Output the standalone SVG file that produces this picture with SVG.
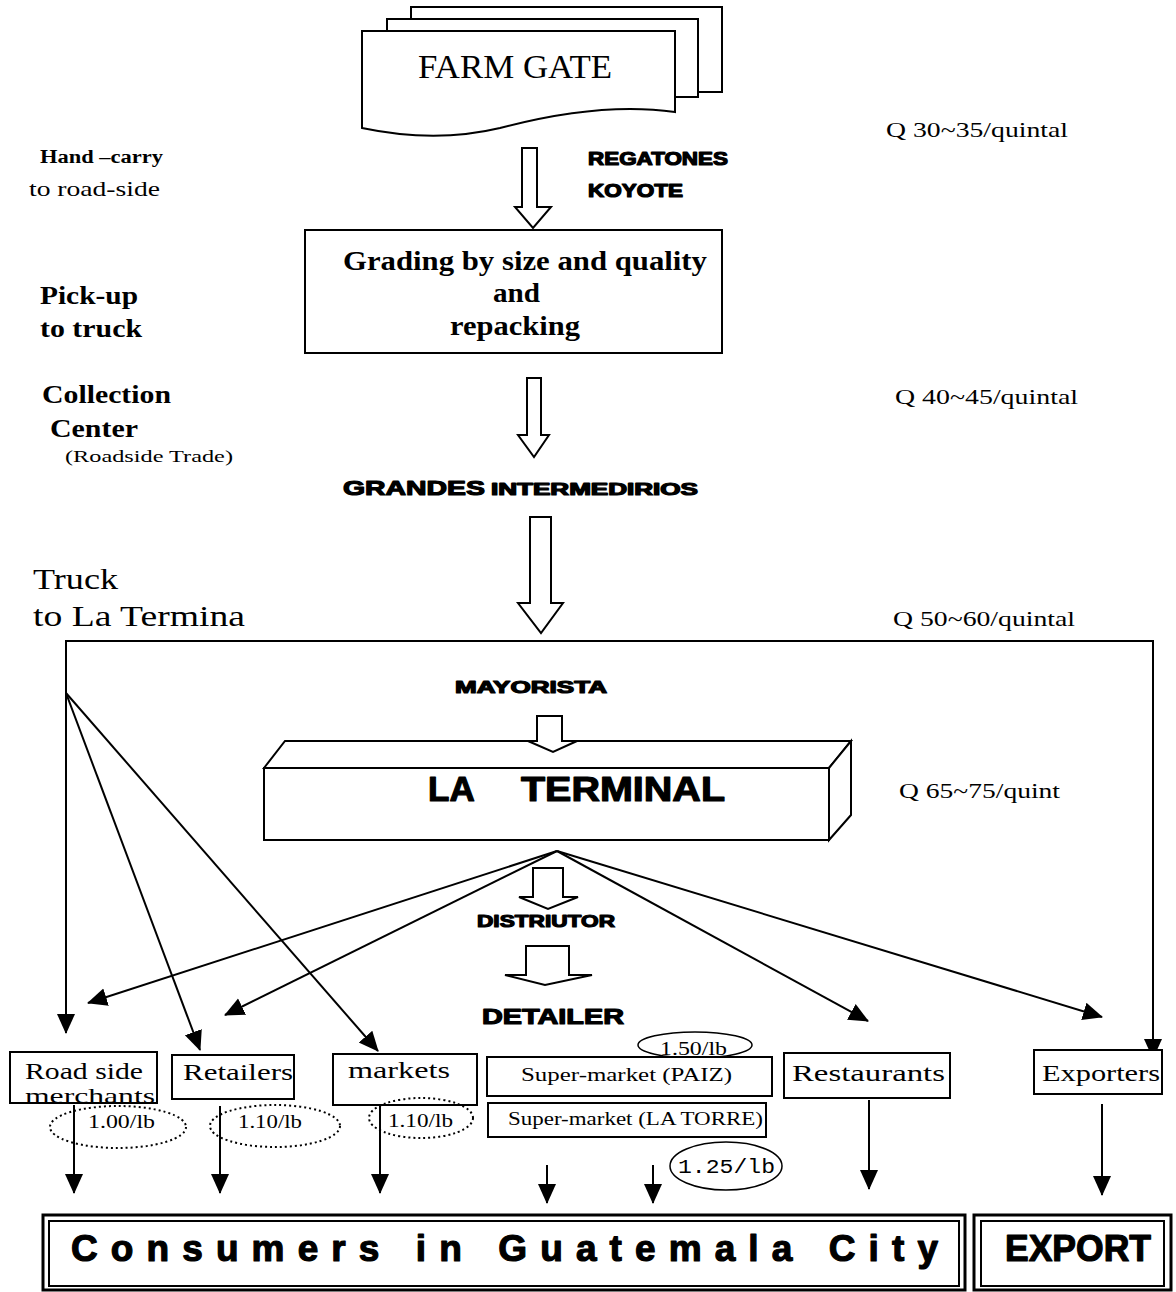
<svg xmlns="http://www.w3.org/2000/svg" width="1176" height="1292" viewBox="0 0 1176 1292">
<defs>
<marker id="ah" viewBox="0 0 20 20" refX="19" refY="10" markerWidth="20" markerHeight="20" markerUnits="userSpaceOnUse" orient="auto-start-reverse"><path d="M0,1 L20,10 L0,19 Z" fill="#000"/></marker>
</defs>
<style>
.s{font-family:"Liberation Serif","Times New Roman",serif;fill:#000}
.b{font-weight:bold}
.h{font-family:"Liberation Sans",Arial,sans-serif;font-weight:bold;fill:#000;stroke:#000;stroke-width:1.2;stroke-linejoin:round}
.box{fill:#fff;stroke:#000;stroke-width:2}
.ha{fill:#fff;stroke:#000;stroke-width:2;stroke-linejoin:miter}
.ln{stroke:#000;stroke-width:2;fill:none}
.dot{fill:none;stroke:#000;stroke-width:2;stroke-dasharray:2 3}
.el{fill:none;stroke:#000;stroke-width:1.5}
.mono{font-family:"Liberation Mono","Courier New",monospace;fill:#000}
</style>
<rect width="1176" height="1292" fill="#fff"/>

<g id="farm-gate">
<rect x="411" y="7" width="311" height="85" class="box"/>
<rect x="387" y="19" width="311" height="78" class="box"/>
<path d="M362,31 H675 V112 C620,104 560,112 500,128 C450,140 400,136 362,128 Z" class="box"/>
<text x="418" y="78" class="s" font-size="34" textLength="194" lengthAdjust="spacingAndGlyphs">FARM GATE</text>
</g>

<g id="labels-left">
<text x="40" y="163" class="s b" font-size="18" textLength="123" lengthAdjust="spacingAndGlyphs">Hand –carry</text>
<text x="29" y="196" class="s" font-size="21" textLength="131" lengthAdjust="spacingAndGlyphs">to road-side</text>
<text x="40" y="304" class="s b" font-size="26" textLength="98" lengthAdjust="spacingAndGlyphs">Pick-up</text>
<text x="40" y="337" class="s b" font-size="26" textLength="102" lengthAdjust="spacingAndGlyphs">to truck</text>
<text x="42" y="403" class="s b" font-size="26" textLength="129" lengthAdjust="spacingAndGlyphs">Collection</text>
<text x="50" y="437" class="s b" font-size="26" textLength="88" lengthAdjust="spacingAndGlyphs">Center</text>
<text x="65" y="462" class="s" font-size="17" textLength="168" lengthAdjust="spacingAndGlyphs">(Roadside Trade)</text>
<text x="33" y="589" class="s" font-size="30" textLength="85" lengthAdjust="spacingAndGlyphs">Truck</text>
<text x="33" y="626" class="s" font-size="30" textLength="212" lengthAdjust="spacingAndGlyphs">to La Termina</text>
</g>

<g id="labels-price">
<text x="886" y="137" class="s" font-size="21" textLength="182" lengthAdjust="spacingAndGlyphs">Q 30~35/quintal</text>
<text x="895" y="404" class="s" font-size="21" textLength="183" lengthAdjust="spacingAndGlyphs">Q 40~45/quintal</text>
<text x="893" y="626" class="s" font-size="21" textLength="182" lengthAdjust="spacingAndGlyphs">Q 50~60/quintal</text>
<text x="899" y="798" class="s" font-size="21" textLength="161" lengthAdjust="spacingAndGlyphs">Q 65~75/quint</text>
</g>

<g id="labels-agents">
<text x="588" y="165" class="h" font-size="18" textLength="140" lengthAdjust="spacingAndGlyphs">REGATONES</text>
<text x="588" y="197" class="h" font-size="18" textLength="95" lengthAdjust="spacingAndGlyphs">KOYOTE</text>
<text x="343" y="495" class="h" font-size="21" stroke-width="1.5" textLength="142" lengthAdjust="spacingAndGlyphs">GRANDES</text>
<text x="491" y="495" class="h" font-size="16" textLength="207" lengthAdjust="spacingAndGlyphs">INTERMEDIRIOS</text>
<text x="455" y="693" class="h" font-size="17" textLength="152" lengthAdjust="spacingAndGlyphs">MAYORISTA</text>
<text x="477" y="927" class="h" font-size="17" textLength="138" lengthAdjust="spacingAndGlyphs">DISTRIUTOR</text>
<text x="482" y="1024" class="h" font-size="22" stroke-width="1.4" textLength="142" lengthAdjust="spacingAndGlyphs">DETAILER</text>
</g>

<g id="grading">
<rect x="305" y="230" width="417" height="123" class="box"/>
<text x="343" y="270" class="s b" font-size="27" textLength="364" lengthAdjust="spacingAndGlyphs">Grading by size and quality</text>
<text x="493" y="302" class="s b" font-size="27" textLength="47" lengthAdjust="spacingAndGlyphs">and</text>
<text x="450" y="335" class="s b" font-size="27" textLength="130" lengthAdjust="spacingAndGlyphs">repacking</text>
</g>

<g id="la-terminal">
<path d="M264,768 L285,741 H851 L829,768 Z" class="box"/>
<path d="M829,768 L851,741 V815 L829,840 Z" class="box"/>
<rect x="264" y="768" width="565" height="72" class="box"/>
<text y="801" class="h" font-size="35" stroke-width="1.8"><tspan x="428">LA</tspan> <tspan x="521" textLength="204" lengthAdjust="spacingAndGlyphs">TERMINAL</tspan></text>
</g>

<g id="hollow-arrows">
<path d="M522,148 H537 V207 H551 L533,228 L515,207 H522 Z" class="ha"/>
<path d="M527,378 H541 V435 H549 L534,457 L518,435 H527 Z" class="ha"/>
<path d="M530,517 H551 V603 H563 L541,633 L518,603 H530 Z" class="ha"/>
<path d="M537,716 H562 V741 H577 L553,752 L528,741 H537 Z" class="ha"/>
<path d="M533,868 H563 V897 H578 L548,909 L519,897 H533 Z" class="ha"/>
<path d="M526,946 H569 V975 H592 L545,985 L505,975 H526 Z" class="ha"/>
</g>

<g id="connectors">
<path d="M66,1033 V641 H1153 V1058" class="ln" marker-start="url(#ah)" marker-end="url(#ah)"/>
<line x1="66" y1="693" x2="200" y2="1050" class="ln" marker-end="url(#ah)"/>
<line x1="66" y1="693" x2="378" y2="1051" class="ln" marker-end="url(#ah)"/>
<line x1="557" y1="851" x2="88" y2="1003" class="ln" marker-end="url(#ah)"/>
<line x1="557" y1="851" x2="225" y2="1015" class="ln" marker-end="url(#ah)"/>
<line x1="557" y1="851" x2="868" y2="1021" class="ln" marker-end="url(#ah)"/>
<line x1="557" y1="851" x2="1102" y2="1017" class="ln" marker-end="url(#ah)"/>
<line x1="74" y1="1105" x2="74" y2="1193" class="ln" marker-end="url(#ah)"/>
<line x1="220" y1="1106" x2="220" y2="1193" class="ln" marker-end="url(#ah)"/>
<line x1="380" y1="1105" x2="380" y2="1193" class="ln" marker-end="url(#ah)"/>
<line x1="547" y1="1165" x2="547" y2="1203" class="ln" marker-end="url(#ah)"/>
<line x1="653" y1="1165" x2="653" y2="1203" class="ln" marker-end="url(#ah)"/>
<line x1="869" y1="1100" x2="869" y2="1189" class="ln" marker-end="url(#ah)"/>
<line x1="1102" y1="1104" x2="1102" y2="1195" class="ln" marker-end="url(#ah)"/>
</g>

<g id="road-side">
<rect x="10" y="1052" width="147" height="51" class="box"/>
<text x="25" y="1079" class="s" font-size="23" textLength="118" lengthAdjust="spacingAndGlyphs">Road side</text>
<text x="25" y="1103" class="s" font-size="21" textLength="130" lengthAdjust="spacingAndGlyphs">merchants</text>
<ellipse cx="118" cy="1127" rx="68" ry="21" class="dot"/>
<text x="88" y="1128" class="s" font-size="19" textLength="67" lengthAdjust="spacingAndGlyphs">1.00/lb</text>
</g>

<g id="retailers">
<rect x="172" y="1055" width="122" height="44" class="box"/>
<text x="183" y="1080" class="s" font-size="24" textLength="110" lengthAdjust="spacingAndGlyphs">Retailers</text>
<ellipse cx="275" cy="1126" rx="65" ry="21" class="dot"/>
<text x="238" y="1128" class="s" font-size="19" textLength="64" lengthAdjust="spacingAndGlyphs">1.10/lb</text>
</g>

<g id="markets">
<rect x="333" y="1054" width="144" height="51" class="box"/>
<text x="348" y="1078" class="s" font-size="24" textLength="102" lengthAdjust="spacingAndGlyphs">markets</text>
<ellipse cx="421" cy="1118" rx="52" ry="20" class="dot"/>
<text x="388" y="1127" class="s" font-size="19" textLength="65" lengthAdjust="spacingAndGlyphs">1.10/lb</text>
</g>

<g id="super-paiz">
<ellipse cx="695" cy="1045" rx="57" ry="13" class="el"/>
<rect x="487" y="1057" width="285" height="39" class="box"/>
<text x="660" y="1055" class="s" font-size="19" textLength="67" lengthAdjust="spacingAndGlyphs">1.50/lb</text>
<text x="521" y="1081" class="s" font-size="18" textLength="211" lengthAdjust="spacingAndGlyphs">Super-market (PAIZ)</text>
</g>

<g id="super-la-torre">
<rect x="488" y="1103" width="278" height="34" class="box"/>
<text x="508" y="1125" class="s" font-size="18" textLength="255" lengthAdjust="spacingAndGlyphs">Super-market (LA TORRE)</text>
<ellipse cx="726" cy="1166" rx="56" ry="24" class="el"/>
<text x="678" y="1173" class="mono" font-size="20" textLength="97" lengthAdjust="spacingAndGlyphs">1.25/lb</text>
</g>

<g id="restaurants">
<rect x="784" y="1053" width="166" height="45" class="box"/>
<text x="792" y="1081" class="s" font-size="24" textLength="153" lengthAdjust="spacingAndGlyphs">Restaurants</text>
</g>

<g id="exporters">
<rect x="1034" y="1050" width="128" height="44" class="box"/>
<text x="1042" y="1081" class="s" font-size="24" textLength="118" lengthAdjust="spacingAndGlyphs">Exporters</text>
</g>

<g id="consumers">
<rect x="43" y="1215" width="922" height="75" fill="#fff" stroke="#000" stroke-width="3"/>
<rect x="49" y="1221" width="910" height="65" fill="none" stroke="#000" stroke-width="2"/>
<text x="71" y="1261" class="h" font-size="37" stroke-width="2" textLength="867" lengthAdjust="spacing">Consumers in Guatemala City</text>
</g>

<g id="export">
<rect x="974" y="1215" width="197" height="75" fill="#fff" stroke="#000" stroke-width="3"/>
<rect x="981" y="1221" width="183" height="65" fill="none" stroke="#000" stroke-width="2"/>
<text x="1005" y="1261" class="h" font-size="37" stroke-width="2" textLength="146" lengthAdjust="spacingAndGlyphs">EXPORT</text>
</g>
</svg>
